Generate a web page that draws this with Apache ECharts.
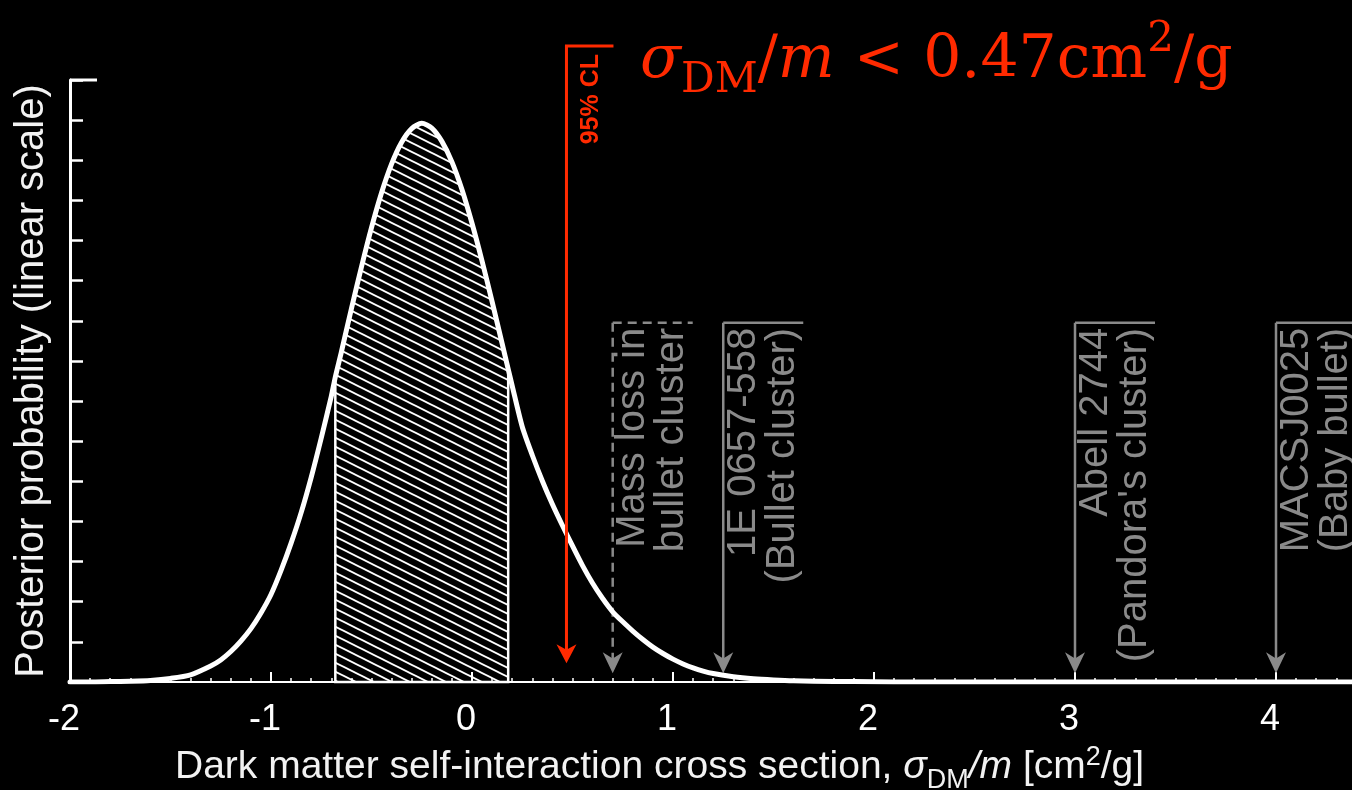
<!DOCTYPE html>
<html>
<head>
<meta charset="utf-8">
<style>
  html, body { margin: 0; padding: 0; background: #000; }
  #chart { width: 1352px; height: 790px; }
</style>
<script src="https://cdn.jsdelivr.net/npm/echarts@6/dist/echarts.min.js"></script>
</head>
<body>
<div id="chart"></div>
<script>
// Posterior probability of the dark-matter self-interaction cross section (cm^2/g)
const sigmaGrid = [-2.0, -1.9, -1.8, -1.7, -1.6, -1.5, -1.4, -1.3,
  -1.25, -1.2, -1.15, -1.1, -1.05, -1.0, -0.95, -0.9, -0.85, -0.8, -0.75, -0.7,
  -0.68,
  -0.65, -0.6, -0.55, -0.5, -0.45, -0.4, -0.35, -0.3, -0.25, -0.2, -0.15, -0.1, -0.05, 0, 0.05, 0.1, 0.15,
  0.18,
  0.2, 0.25, 0.3, 0.35, 0.4, 0.45, 0.5, 0.55, 0.6, 0.65, 0.7, 0.75, 0.8, 0.85, 0.9, 0.95, 1.0, 1.05, 1.1, 1.15, 1.2,
  1.3, 1.4, 1.5, 1.6,
  1.8, 2.0, 2.2, 2.5, 3.0, 3.5, 4.0, 4.5, 5.0];
const posterior = [0, 0, 0.01, 0.02, 0.04, 0.09, 0.18, 0.40,
  0.55, 0.76, 1.02, 1.33, 1.72, 2.18, 2.78, 3.46, 4.22, 5.10, 6.08, 7.12,
  7.60,
  8.22, 9.30, 10.34, 11.32, 12.19, 12.91, 13.45, 13.79, 13.92, 13.80, 13.47, 12.96, 12.27, 11.43, 10.49, 9.48, 8.43,
  7.80,
  7.38, 6.36, 5.65, 5.01, 4.43, 3.90, 3.39, 2.90, 2.46, 2.08, 1.75, 1.50, 1.27, 1.06, 0.87, 0.71, 0.57, 0.45, 0.35, 0.27, 0.21,
  0.13, 0.08, 0.05, 0.03,
  0.015, 0.005, 0, 0, 0, 0, 0, 0, 0];

// 68% credible interval (hatched) and the 95% upper limit
const credibleLow = -0.68;
const credibleHigh = 0.18;
const upperLimit95 = 0.47;

// Upper limits from individual cluster collisions
const clusterLimits = [0.7, 1.25, 3, 4];
const clusterLabels = ['Mass loss in\nbullet cluster', '1E 0657-558\n(Bullet cluster)',
  'Abell 2744\n(Pandora\'s cluster)', 'MACSJ0025\n(Baby bullet)'];
const clusterDashed = [true, false, false, false];

const xTickLabels = [-2, -1, 0, 1, 2, 3, 4];

// ---- styling constants ----
const SANS = 'Liberation Sans, Arial, Helvetica, sans-serif';
const SERIF = 'DejaVu Serif, Liberation Serif, serif';
const WHITE = '#ffffff';
const TEXT = '#f2f2f2';
const GRAY = '#8a8a8a';
const RED = '#ff2a00';
const GRAY_TIP = 0.22;      // arrow tip height, axis units
const GRAY_TOP = 8.95;      // bracket top, axis units
const RED_TIP = 0.47;
const RED_TOP_PX = 46;

function makeHatch() {
  const c = document.createElement('canvas');
  c.width = 18; c.height = 9;
  const g = c.getContext('2d');
  g.strokeStyle = '#ffffff';
  g.lineWidth = 1.9;
  for (let k = -1; k <= 1; k++) {
    g.beginPath();
    g.moveTo(-2, k * 9 - 1);
    g.lineTo(20, k * 9 + 10);
    g.stroke();
  }
  return c;
}
const hatch = { image: makeHatch(), repeat: 'repeat' };

function arrowHead(x, y, color, w, len) {
  return {
    type: 'polygon',
    shape: { points: [[x, y], [x - w / 2, y - len], [x, y - len * 0.7], [x + w / 2, y - len]] },
    style: { fill: color }
  };
}

const chart = echarts.init(document.getElementById('chart'), null, { renderer: 'canvas' });

const option = {
  backgroundColor: '#000',
  animation: false,
  grid: { left: 70, top: 80, width: 1407, height: 602, containLabel: false, outerBoundsMode: 'none' },
  xAxis: {
    type: 'value', min: -2, max: 5, interval: 1,
    axisLine: { show: true, onZero: false, lineStyle: { color: WHITE, width: 2 } },
    axisTick: { show: true, inside: true, length: 10, lineStyle: { color: WHITE, width: 2 } },
    minorTick: { show: true, splitNumber: 10, length: 4, lineStyle: { color: WHITE, width: 1.5 } },
    splitLine: { show: false }, minorSplitLine: { show: false },
    axisLabel: {
      color: WHITE, fontSize: 36, fontFamily: SANS, margin: 20, padding: [0, 12, 0, 0],
      formatter: v => (xTickLabels.indexOf(v) >= 0 ? String(v) : '')
    }
  },
  yAxis: {
    type: 'value', min: 0, max: 15, interval: 1,
    axisLine: { show: true, onZero: false, lineStyle: { color: WHITE, width: 3 } },
    axisTick: { show: true, inside: true, length: 13, lineStyle: { color: WHITE, width: 2.5 } },
    axisLabel: { show: false },
    splitLine: { show: false },
    name: 'Posterior probability (linear scale)',
    nameLocation: 'middle', nameRotate: 90, nameGap: 18,
    nameTextStyle: { color: TEXT, fontSize: 40, fontFamily: SANS }
  },
  graphic: [
    {
      type: 'text', left: 175, top: 744,
      style: {
        fill: TEXT,
        text: '{t|Dark matter self-interaction cross section, }{i|σ}{sub|DM}{i|/m}{t| [cm}{sup|2}{t|/g]}',
        rich: {
          t: { fontFamily: SANS, fontSize: 39, fill: TEXT, verticalAlign: 'bottom', padding: [0, 0, 7, 0] },
          i: { fontFamily: SANS, fontStyle: 'italic', fontSize: 39, fill: TEXT, verticalAlign: 'bottom', padding: [0, 0, 7, 0] },
          sub: { fontFamily: SANS, fontSize: 27, fill: TEXT, verticalAlign: 'bottom', padding: [0, 0, 0, 0] },
          sup: { fontFamily: SANS, fontSize: 27, fill: TEXT, verticalAlign: 'bottom', padding: [0, 0, 23, 0] }
        }
      }
    },
    {
      type: 'text', left: 640, top: 19,
      style: {
        fill: RED,
        text: '{i|σ}{sub|DM}{n|/}{i|m}{n| < 0.47cm}{sup|2}{n|/g}',
        rich: {
          n: { fontFamily: SERIF, fontSize: 60, fill: RED, verticalAlign: 'bottom', padding: [0, 0, 11, 0] },
          i: { fontFamily: SERIF, fontStyle: 'italic', fontSize: 60, fill: RED, verticalAlign: 'bottom', padding: [0, 0, 11, 0] },
          sub: { fontFamily: SERIF, fontSize: 42, fill: RED, verticalAlign: 'bottom', padding: [0, 0, 0, 0] },
          sup: { fontFamily: SERIF, fontSize: 42, fill: RED, verticalAlign: 'bottom', padding: [0, 0, 41, 0] }
        }
      }
    }
  ],
  series: [
    {
      // hatched credible region
      type: 'custom', coordinateSystem: 'cartesian2d', z: 3,
      data: [[credibleLow, 0]], encode: { x: 0, y: 1 },
      renderItem(params, api) {
        const pts = [];
        for (let k = 0; k < sigmaGrid.length; k++) {
          const s = sigmaGrid[k];
          if (s >= credibleLow - 1e-9 && s <= credibleHigh + 1e-9) pts.push(api.coord([s, posterior[k]]));
        }
        pts.push(api.coord([credibleHigh, 0]));
        pts.push(api.coord([credibleLow, 0]));
        return { type: 'polygon', shape: { points: pts }, style: { fill: hatch, stroke: WHITE, lineWidth: 2.5 } };
      }
    },
    {
      // posterior curve
      type: 'line', z: 5, showSymbol: false, smooth: 0.25,
      data: sigmaGrid.map((s, k) => [s, posterior[k]]),
      lineStyle: { color: WHITE, width: 5, cap: 'round', join: 'round' }
    },
    {
      // cluster upper limits
      type: 'custom', coordinateSystem: 'cartesian2d', z: 2,
      data: clusterLimits.map((v, i) => [v, 0, i]), encode: { x: 0, y: 1 },
      renderItem(params, api) {
        const i = api.value(2);
        const p = api.coord([api.value(0), GRAY_TIP]);
        const x = p[0], tip = p[1];
        const top = api.coord([api.value(0), GRAY_TOP])[1];
        const st = { stroke: GRAY, lineWidth: 2.5, lineDash: clusterDashed[i] ? [9, 6] : null };
        return {
          type: 'group',
          children: [
            { type: 'line', shape: { x1: x, y1: top, x2: x, y2: tip - 12 }, style: st },
            { type: 'line', shape: { x1: x, y1: top, x2: x + 80, y2: top }, style: st },
            arrowHead(x, tip, GRAY, 20, 21),
            {
              type: 'text', x: x + 1, y: top + 5, rotation: Math.PI / 2,
              style: {
                text: clusterLabels[i], fill: GRAY, fontSize: 40, fontFamily: SANS,
                align: 'right', verticalAlign: 'top', lineHeight: 39
              }
            }
          ]
        };
      }
    },
    {
      // 95% upper limit
      type: 'custom', coordinateSystem: 'cartesian2d', z: 6,
      data: [[upperLimit95, 0]], encode: { x: 0, y: 1 },
      renderItem(params, api) {
        const p = api.coord([api.value(0), RED_TIP]);
        const x = p[0], tip = p[1];
        const st = { stroke: RED, lineWidth: 3 };
        return {
          type: 'group',
          children: [
            { type: 'line', shape: { x1: x, y1: RED_TOP_PX, x2: x, y2: tip - 10 }, style: st },
            { type: 'line', shape: { x1: x - 1.5, y1: RED_TOP_PX, x2: x + 47, y2: RED_TOP_PX }, style: st },
            arrowHead(x, tip, RED, 20, 19),
            {
              type: 'text', x: x + 12, y: RED_TOP_PX + 8, rotation: Math.PI / 2,
              style: {
                text: '95% CL', fill: RED, fontSize: 25, fontWeight: 'bold', fontFamily: SANS,
                align: 'right', verticalAlign: 'top'
              }
            }
          ]
        };
      }
    },
    {
      // extended top tick of the vertical axis
      type: 'custom', coordinateSystem: 'cartesian2d', z: 6,
      data: [[-2, 15]], encode: { x: 0, y: 1 },
      renderItem(params, api) {
        const p = api.coord([api.value(0), api.value(1)]);
        return { type: 'line', shape: { x1: p[0], y1: p[1], x2: p[0] + 27, y2: p[1] }, style: { stroke: WHITE, lineWidth: 3 } };
      }
    }
  ]
};

chart.setOption(option);
</script>
</body>
</html>
